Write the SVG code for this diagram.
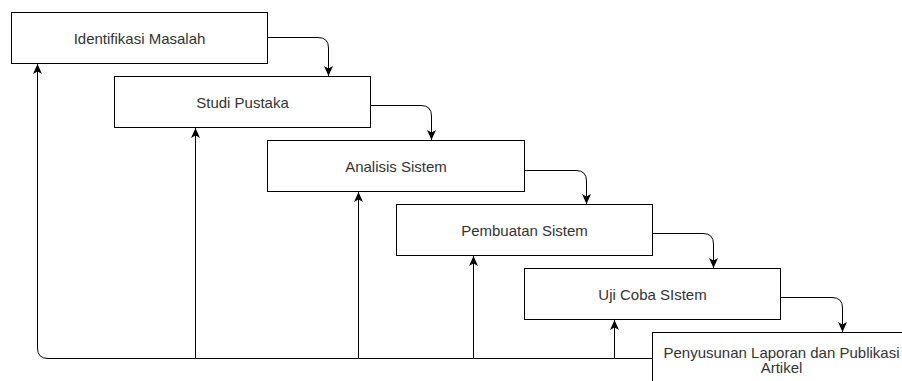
<svg xmlns="http://www.w3.org/2000/svg" width="902" height="381" viewBox="0 0 902 381">
<style>
.box{fill:#fff;stroke:#000;stroke-width:1}
.lbl{font-family:"Liberation Sans",Arial,sans-serif;font-size:15px;fill:#333;text-anchor:middle}
.edge{fill:none;stroke:#000;stroke-width:1}
</style>
<defs>
<marker id="arr" viewBox="0 0 10 9" refX="10" refY="4.5" markerWidth="10" markerHeight="9" markerUnits="userSpaceOnUse" orient="auto">
<path d="M0,0 L10,4.5 L0,9 L2.5,4.5 Z" fill="#000"/>
</marker>
</defs>
<rect width="902" height="381" fill="#fff"/>
<g id="connectors">
<path class="edge" d="M268,37.5 H318 Q328.5,37.5 328.5,48 V76" marker-end="url(#arr)"/>
<path class="edge" d="M371,105.5 H421 Q431.5,105.5 431.5,116 V140" marker-end="url(#arr)"/>
<path class="edge" d="M525,170.5 H576 Q586.5,170.5 586.5,181 V204" marker-end="url(#arr)"/>
<path class="edge" d="M653,233.5 H703 Q713.5,233.5 713.5,244 V268" marker-end="url(#arr)"/>
<path class="edge" d="M781,297.5 H832 Q842.5,297.5 842.5,308 V332" marker-end="url(#arr)"/>
<path class="edge" d="M653,358.5 H48 Q37.5,358.5 37.5,348 V64" marker-end="url(#arr)"/>
<path class="edge" d="M195.5,358.5 V128" marker-end="url(#arr)"/>
<path class="edge" d="M358.5,358.5 V192" marker-end="url(#arr)"/>
<path class="edge" d="M473.5,358.5 V256" marker-end="url(#arr)"/>
<path class="edge" d="M614.5,358.5 V320" marker-end="url(#arr)"/>
</g>
<g id="n1"><rect class="box" x="11.5" y="12.5" width="256" height="51"/><text class="lbl" x="139.5" y="43.5">Identifikasi Masalah</text></g>
<g id="n2"><rect class="box" x="114.5" y="76.5" width="256" height="51"/><text class="lbl" x="242.5" y="107.5">Studi Pustaka</text></g>
<g id="n3"><rect class="box" x="267.5" y="140.5" width="257" height="51"/><text class="lbl" x="396" y="172">Analisis Sistem</text></g>
<g id="n4"><rect class="box" x="396.5" y="204.5" width="256" height="51"/><text class="lbl" x="524.5" y="236">Pembuatan Sistem</text></g>
<g id="n5"><rect class="box" x="524.5" y="268.5" width="256" height="51"/><text class="lbl" x="652.5" y="300">Uji Coba SIstem</text></g>
<g id="n6"><rect class="box" x="652.5" y="332.5" width="258" height="51"/><text class="lbl" x="781.5" y="357.5">Penyusunan Laporan dan Publikasi</text><text class="lbl" x="781.5" y="373">Artikel</text></g>
</svg>
